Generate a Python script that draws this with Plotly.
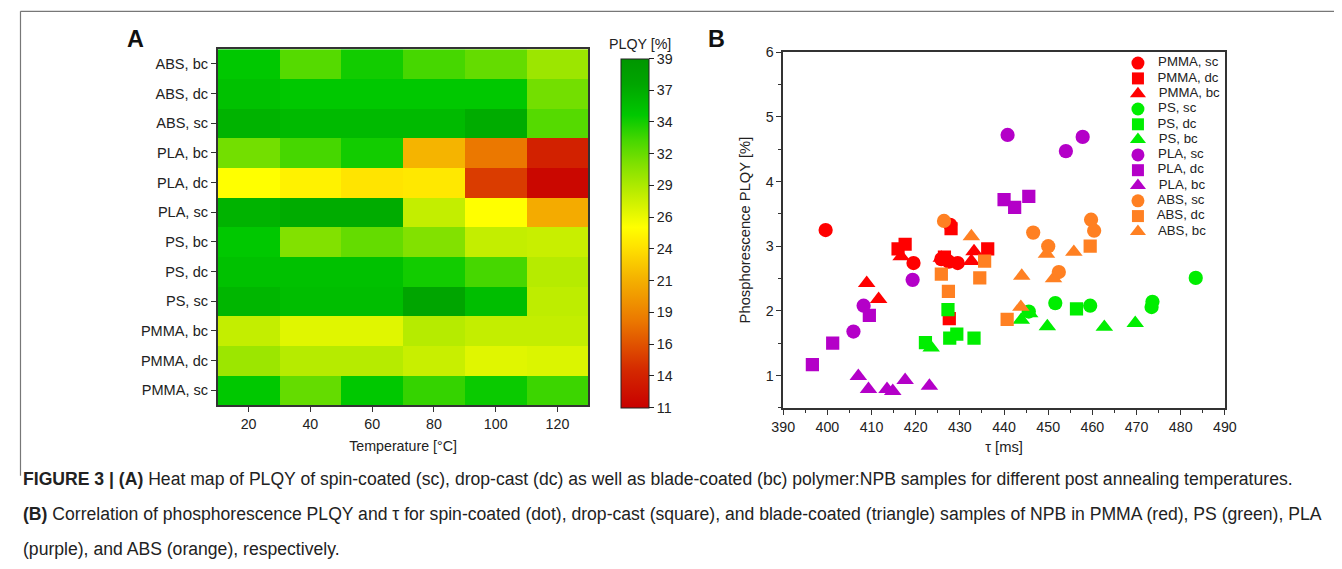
import numpy as np
import plotly.graph_objects as go

# ---------------- data: heat map (A) ----------------
temperatures = [20, 40, 60, 80, 100, 120]
sample_rows = ["PMMA, sc", "PMMA, dc", "PMMA, bc", "PS, sc", "PS, dc", "PS, bc",
               "PLA, sc", "PLA, dc", "PLA, bc", "ABS, sc", "ABS, dc", "ABS, bc"]
plqy_pmma_sc = [34.5, 31.5, 34.5, 33.0, 34.2, 32.8]
plqy_pmma_dc = [29.5, 28.5, 28.5, 27.8, 26.8, 27.0]
plqy_pmma_bc = [28.0, 26.8, 26.8, 28.5, 28.0, 28.0]
plqy_ps_sc = [35.8, 35.2, 35.2, 37.0, 35.2, 28.2]
plqy_ps_dc = [35.0, 35.0, 35.0, 34.0, 32.5, 28.5]
plqy_ps_bc = [34.5, 30.5, 31.5, 30.5, 28.0, 27.8]
plqy_pla_sc = [36.0, 36.5, 36.5, 28.0, 25.5, 21.0]
plqy_pla_dc = [25.5, 24.8, 24.0, 24.2, 15.0, 11.5]
plqy_pla_bc = [31.0, 32.5, 34.0, 21.5, 18.0, 13.5]
plqy_abs_sc = [36.0, 35.5, 35.5, 35.5, 36.5, 32.0]
plqy_abs_dc = [35.0, 34.5, 34.5, 34.5, 34.5, 31.0]
plqy_abs_bc = [34.5, 32.0, 34.0, 32.5, 31.5, 29.5]
z_heat = [plqy_pmma_sc, plqy_pmma_dc, plqy_pmma_bc, plqy_ps_sc, plqy_ps_dc, plqy_ps_bc,
          plqy_pla_sc, plqy_pla_dc, plqy_pla_bc, plqy_abs_sc, plqy_abs_dc, plqy_abs_bc]
cbar_min, cbar_max = 11, 39
cbar_ticktext = ["11", "14", "16", "19", "21", "24", "26", "29", "32", "34", "37", "39"]

# ---------------- data: scatter (B) ----------------
tau_pmma_sc = [399.6, 419.5, 425.8, 427.5, 429.5, 427.8]
phos_pmma_sc = [3.25, 2.74, 2.80, 2.76, 2.74, 3.33]
tau_pmma_dc = [416.0, 417.6, 426.5, 428.0, 427.6, 436.3]
phos_pmma_dc = [2.96, 3.03, 2.83, 3.27, 1.88, 2.96]
tau_pmma_bc = [416.7, 408.9, 411.6, 433.2, 432.6, 425.8]
phos_pmma_bc = [2.84, 2.43, 2.18, 2.92, 2.77, 2.82]
tau_ps_sc = [483.4, 451.6, 459.5, 473.6, 473.4, 445.6]
phos_ps_sc = [2.51, 2.12, 2.08, 2.14, 2.06, 1.99]
tau_ps_dc = [422.2, 427.3, 427.7, 429.3, 433.2, 456.4]
phos_ps_dc = [1.51, 2.02, 1.58, 1.64, 1.58, 2.03]
tau_ps_bc = [423.5, 443.9, 449.8, 462.7, 469.7, 445.8]
phos_ps_bc = [1.43, 1.86, 1.76, 1.75, 1.81, 1.96]
tau_pla_sc = [440.8, 454.0, 457.8, 419.3, 408.2, 405.9]
phos_pla_sc = [4.72, 4.47, 4.69, 2.48, 2.08, 1.68]
tau_pla_dc = [440.0, 442.4, 445.6, 409.5, 401.2, 396.6]
phos_pla_dc = [3.72, 3.60, 3.77, 1.93, 1.50, 1.17]
tau_pla_bc = [407.0, 409.3, 413.5, 414.8, 417.6, 423.1]
phos_pla_bc = [0.99, 0.79, 0.79, 0.76, 0.93, 0.84]
tau_abs_sc = [426.4, 446.6, 450.0, 452.4, 459.7, 460.4]
phos_abs_sc = [3.39, 3.21, 3.00, 2.60, 3.41, 3.24]
tau_abs_dc = [425.8, 427.4, 434.5, 435.6, 440.7, 459.5]
phos_abs_dc = [2.57, 2.30, 2.51, 2.77, 1.87, 3.00]
tau_abs_bc = [432.6, 449.6, 455.8, 444.0, 451.2, 443.8]
phos_abs_bc = [3.15, 2.88, 2.91, 2.54, 2.50, 2.06]

series_names = ["PMMA, sc", "PMMA, dc", "PMMA, bc", "PS, sc", "PS, dc", "PS, bc",
                "PLA, sc", "PLA, dc", "PLA, bc", "ABS, sc", "ABS, dc", "ABS, bc"]
series_tau = [tau_pmma_sc, tau_pmma_dc, tau_pmma_bc, tau_ps_sc, tau_ps_dc, tau_ps_bc,
              tau_pla_sc, tau_pla_dc, tau_pla_bc, tau_abs_sc, tau_abs_dc, tau_abs_bc]
series_phos = [phos_pmma_sc, phos_pmma_dc, phos_pmma_bc, phos_ps_sc, phos_ps_dc, phos_ps_bc,
               phos_pla_sc, phos_pla_dc, phos_pla_bc, phos_abs_sc, phos_abs_dc, phos_abs_bc]

# ---------------- styles / layout helpers ----------------
OFF = 8                       # page body margin
W, H = 1350, 569 - 2 * OFF
# observed mapping page px -> photographed px (o = A*p + B); invert it for placement
AX, BX = 0.983, 11.3
AY, BY = 0.989, 6.8
FS = 1 / AX                   # font compensation
FONT = "Liberation Sans, Arial, Helvetica, sans-serif"
TXT = "#222"
polymer_colors = {"PMMA": "#ff0000", "PS": "#00ee00", "PLA": "#b400c8", "ABS": "#ff8022"}
coat_symbols = {"sc": "circle", "dc": "square", "bc": "triangle-up"}
coat_sizes = {"sc": 14, "dc": 13, "bc": 15}
legend_sizes = {"sc": 13, "dc": 12, "bc": 14}

stops = [(11, "rgb(200,0,0)"), (14, "rgb(212,40,0)"), (18, "rgb(235,120,0)"),
         (21.5, "rgb(245,180,0)"), (24, "rgb(255,228,0)"), (25.5, "rgb(255,255,0)"),
         (28, "rgb(195,238,0)"), (30.5, "rgb(130,225,0)"), (32.5, "rgb(70,215,0)"),
         (34.5, "rgb(0,200,0)"), (37, "rgb(0,165,0)"), (39, "rgb(0,150,0)")]
colorscale = [[(v - cbar_min) / (cbar_max - cbar_min), c] for v, c in stops]


def px_x(r):
    return ((r - BX) / AX - OFF) / W


def px_y(r):
    return 1 - ((r - BY) / AY - OFF) / H


def fs(s):
    return round(s * FS, 2)


fig = go.Figure()

fig.add_trace(go.Heatmap(
    x=temperatures, y=sample_rows, z=z_heat,
    zmin=cbar_min, zmax=cbar_max, colorscale=colorscale,
    xaxis="x", yaxis="y",
    colorbar=dict(
        x=px_x(621), xanchor="left", xpad=0, ypad=0,
        y=px_y(232.5), yanchor="middle",
        thickness=28 / AX, thicknessmode="pixels",
        len=345 / AY, lenmode="pixels",
        outlinewidth=1, outlinecolor="#222",
        tickvals=list(np.linspace(cbar_min, cbar_max, len(cbar_ticktext))),
        ticktext=cbar_ticktext,
        ticks="outside", ticklen=5, tickcolor="#222",
        tickfont=dict(family=FONT, size=fs(14), color=TXT),
    ),
    showscale=True,
))

for name, tx, ty in zip(series_names, series_tau, series_phos):
    poly, coat = [s.strip() for s in name.split(",")]
    fig.add_trace(go.Scatter(
        x=tx, y=ty, mode="markers", name=name, showlegend=False,
        xaxis="x2", yaxis="y2",
        marker=dict(color=polymer_colors[poly], symbol=coat_symbols[coat],
                    size=coat_sizes[coat] / AX, line=dict(width=0)),
    ))

# legend drawn on a hidden helper axis, one row per series (index based)
leg_idx = list(range(len(series_names)))
for i, name in enumerate(series_names):
    poly, coat = [s.strip() for s in name.split(",")]
    fig.add_trace(go.Scatter(
        x=[0], y=[leg_idx[i]], mode="markers+text", text=["   " + name],
        textposition="middle right", showlegend=False, hoverinfo="skip",
        cliponaxis=False,
        textfont=dict(family=FONT, size=fs(13), color=TXT),
        xaxis="x3", yaxis="y3",
        marker=dict(color=polymer_colors[poly], symbol=coat_symbols[coat],
                    size=legend_sizes[coat], line=dict(width=0)),
    ))

axis_common = dict(showline=True, linecolor="#333", linewidth=1.5, mirror=True,
                   ticks="outside", tickcolor="#333", ticklen=5,
                   showgrid=False, zeroline=False,
                   tickfont=dict(family=FONT, size=fs(14), color=TXT))

fig.update_layout(
    width=W, height=H,
    margin=dict(l=0, r=0, t=0, b=0),
    paper_bgcolor="white", plot_bgcolor="white",
    font=dict(family=FONT, color=TXT),
    showlegend=False,
    xaxis=dict(domain=[px_x(217), px_x(588)], anchor="y", range=[10, 130],
               tickvals=temperatures,
               title=dict(text="Temperature [°C]", font=dict(family=FONT, size=fs(14)), standoff=10),
               **axis_common),
    yaxis=dict(domain=[px_y(405), px_y(48)], anchor="x", type="category",
               **{**axis_common, "tickfont": dict(family=FONT, size=fs(14.3), color=TXT)}),
    xaxis2=dict(domain=[px_x(783), px_x(1225)], anchor="y2", range=[390, 490],
                dtick=10, minor=dict(dtick=5, ticks="outside", ticklen=3, tickcolor="#333"),
                title=dict(text="τ [ms]", font=dict(family=FONT, size=fs(14.5)), standoff=8),
                **axis_common),
    yaxis2=dict(domain=[px_y(408), px_y(51)], anchor="x2", range=[0.5, 6],
                dtick=1, minor=dict(dtick=0.5, ticks="outside", ticklen=3, tickcolor="#333"),
                title=dict(text="Phosphorescence PLQY [%]", font=dict(family=FONT, size=fs(14.5)), standoff=12),
                **axis_common),
    xaxis3=dict(domain=[px_x(1131), px_x(1145)], anchor="y3", range=[-1, 1],
                visible=False, fixedrange=True),
    yaxis3=dict(domain=[px_y(62 + 15.35 * 11.5), px_y(62 - 15.35 * 0.5)], anchor="x3",
                range=[len(series_names) - 0.5, -0.5], visible=False, fixedrange=True),
)

# colorbar title
fig.add_annotation(text="PLQY [%]", x=px_x(640), y=px_y(43), xref="paper", yref="paper",
                   xanchor="center", yanchor="middle", showarrow=False,
                   font=dict(family=FONT, size=fs(14), color=TXT))

# panel letters
fig.add_annotation(text="<b>A</b>", x=px_x(135), y=px_y(38), xref="paper", yref="paper",
                   xanchor="center", yanchor="middle", showarrow=False,
                   font=dict(family=FONT, size=fs(23), color="#111"))
fig.add_annotation(text="<b>B</b>", x=px_x(716), y=px_y(38), xref="paper", yref="paper",
                   xanchor="center", yanchor="middle", showarrow=False,
                   font=dict(family=FONT, size=fs(23), color="#111"))

# caption
caption_lines = [
    "<b>FIGURE 3 | (A)</b> Heat map of PLQY of spin-coated (sc), drop-cast (dc) as well as blade-coated (bc) polymer:NPB samples for different post annealing temperatures.",
    "<b>(B)</b> Correlation of phosphorescence PLQY and τ for spin-coated (dot), drop-cast (square), and blade-coated (triangle) samples of NPB in PMMA (red), PS (green), PLA",
    "(purple), and ABS (orange), respectively.",
]
for i, line in enumerate(caption_lines):
    fig.add_annotation(text=line, x=px_x(20), y=px_y(479 + 35.5 * i), xref="paper", yref="paper",
                       xanchor="left", yanchor="middle", showarrow=False,
                       font=dict(family=FONT, size=17.6, color=TXT))

# figure frame (top and left edges)
frame_left = max(px_x(9), 0.5 / W)
fig.add_shape(type="line", xref="paper", yref="paper", x0=frame_left, x1=1.0, y0=px_y(10), y1=px_y(10),
              line=dict(color="#777", width=1.2))
fig.add_shape(type="line", xref="paper", yref="paper", x0=frame_left, x1=frame_left, y0=px_y(10), y1=px_y(476),
              line=dict(color="#777", width=1.2))

fig.write_html("out.html")
